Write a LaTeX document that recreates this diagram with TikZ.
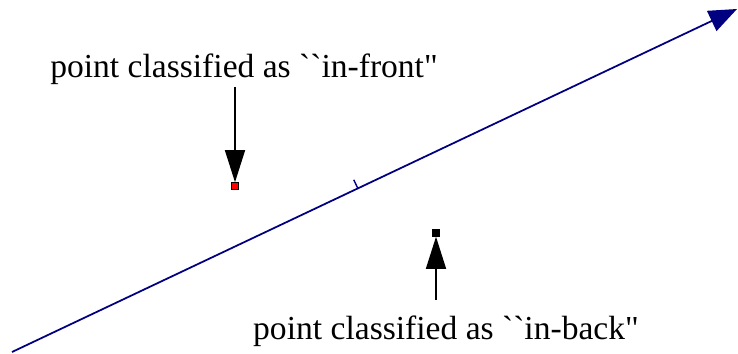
\documentclass[tikz,border=0pt]{standalone}
\usepackage{fontspec}
\newfontfamily\labelfont{Liberation Serif}
\usetikzlibrary{arrows.meta,calc}
\definecolor{linenavy}{RGB}{0,0,128}
\begin{document}
\begin{tikzpicture}[
    pt/.style={draw=black,line width=0.3pt,minimum size=0.14cm,inner sep=0pt},
    lbl/.style={font=\labelfont\fontsize{19.1}{23}\selectfont,inner sep=0.05cm},
    pointer/.style={line width=0.75pt,-{Triangle[width=0.4cm,length=0.64cm]}}]
        \useasboundingbox (0,0) rectangle (14.76,7.06);
        % the dividing line and its tick
        \coordinate (start) at (0.24,0.02);
        \coordinate (tip) at (14.74,6.88);
        \draw[linenavy,line width=1pt,-{Triangle[width=0.44cm,length=0.56cm]}] (start) -- coordinate[pos=0.477] (mid) (tip);
        \draw[linenavy,line width=0.8pt] (mid) -- ($(mid)!0.19cm!90:(tip)$);
        % classified points
        \node[pt,fill=red] (front pt) at (4.70,3.34) {};
        \node[pt,fill=black] (back pt) at (8.72,2.40) {};
        \node[lbl,anchor=base] (front label) at (4.88,5.52) {point classified as ``in-front"};
        \node[lbl,anchor=base] (back label) at (8.92,0.28) {point classified as ``in-back"};
        \draw[pointer] (front label.south -| front pt) -- (front pt.north);
        \draw[pointer,shorten <=0.25cm] (back label.north -| back pt) -- (back pt.south);
    \end{tikzpicture}
\end{document}
